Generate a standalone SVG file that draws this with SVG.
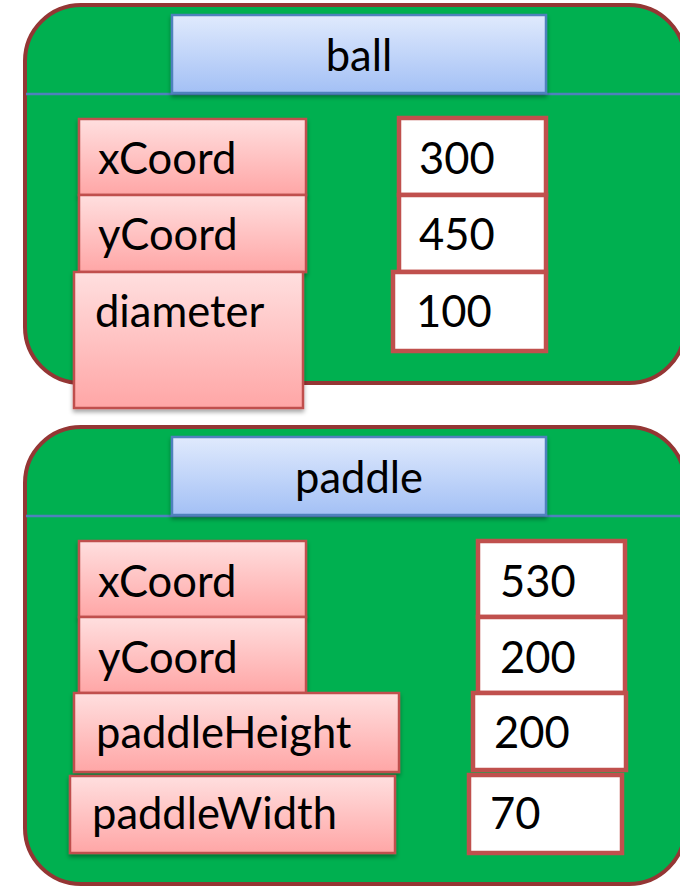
<svg xmlns="http://www.w3.org/2000/svg" width="680" height="886" viewBox="0 0 680 886">
<defs>
<linearGradient id="gBlue" x1="0" y1="0" x2="0" y2="1"><stop offset="0" stop-color="#e0eafd"/><stop offset="1" stop-color="#a3c0f5"/></linearGradient>
<linearGradient id="gPink" x1="0" y1="0" x2="0" y2="1"><stop offset="0" stop-color="#ffdfdf"/><stop offset="1" stop-color="#ffa6a6"/></linearGradient>
<filter id="sh" x="-10%" y="-10%" width="120%" height="130%"><feDropShadow dx="0" dy="3" stdDeviation="2" flood-color="#000" flood-opacity="0.35"/></filter>
</defs>
<style>
.cont{fill:#00b050;stroke:#943634;stroke-width:4}
.title{fill:url(#gBlue);stroke:#4f81bd;stroke-width:2.5;filter:url(#sh)}
.sep{stroke:#4f81bd;stroke-width:2.5}
.name{fill:url(#gPink);stroke:#c0504d;stroke-width:2.5;filter:url(#sh)}
.val{fill:#fff;stroke:#c0504d;stroke-width:4.5}
text{font-family:Lato,"Open Sans",sans-serif;font-size:43.5px;fill:#000}
</style>
<g id="ball">
<rect class="cont" x="25" y="5" width="660" height="378" rx="56"/>
<line class="sep" x1="26" y1="94" x2="680" y2="94"/>
<rect class="title" x="172" y="15" width="374" height="78"/>
<text x="359" y="71" text-anchor="middle">ball</text>
</g>
<g id="ball-xCoord"><rect class="name" x="79" y="119" width="227" height="76"/><text x="98" y="174">xCoord</text></g>
<g id="ball-yCoord"><rect class="name" x="79" y="195" width="227" height="77"/><text x="98" y="250">yCoord</text></g>
<g id="ball-diameter"><rect class="name" x="74" y="272" width="229" height="136"/><text x="95" y="327">diameter</text></g>
<g id="ball-300"><rect class="val" x="399" y="118" width="147" height="77"/><text x="419" y="174">300</text></g>
<g id="ball-450"><rect class="val" x="399" y="195" width="147" height="77"/><text x="419" y="250">450</text></g>
<g id="ball-100"><rect class="val" x="393" y="272" width="153" height="79"/><text x="416" y="327">100</text></g>
<g id="paddle">
<rect class="cont" x="25" y="427" width="660" height="457" rx="56"/>
<line class="sep" x1="26" y1="516" x2="680" y2="516"/>
<rect class="title" x="172" y="437" width="374" height="78"/>
<text x="359" y="493" text-anchor="middle">paddle</text>
</g>
<g id="paddle-xCoord"><rect class="name" x="79" y="541" width="227" height="76"/><text x="98" y="597">xCoord</text></g>
<g id="paddle-yCoord"><rect class="name" x="79" y="617" width="227" height="76"/><text x="98" y="673">yCoord</text></g>
<g id="paddle-paddleHeight"><rect class="name" x="74" y="693" width="325" height="79"/><text x="96" y="748">paddleHeight</text></g>
<g id="paddle-paddleWidth"><rect class="name" x="70" y="776" width="325" height="77"/><text x="92" y="829">paddleWidth</text></g>
<g id="paddle-530"><rect class="val" x="478" y="541" width="147" height="76"/><text x="500" y="597">530</text></g>
<g id="paddle-200a"><rect class="val" x="478" y="617" width="147" height="76"/><text x="500" y="673">200</text></g>
<g id="paddle-200b"><rect class="val" x="473" y="693" width="153" height="77"/><text x="494" y="748">200</text></g>
<g id="paddle-70"><rect class="val" x="469" y="775" width="153" height="78"/><text x="490" y="829">70</text></g>
<g id="connectors"/>
</svg>
